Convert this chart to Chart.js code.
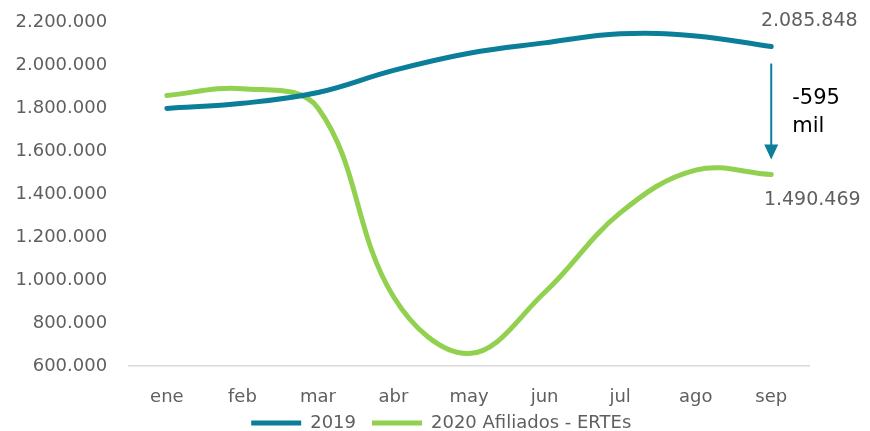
<!DOCTYPE html>
<html><head><meta charset="utf-8">
<script src="https://cdn.jsdelivr.net/npm/chart.js@4/dist/chart.umd.min.js"></script>
<style>html,body{margin:0;padding:0;background:#fff}#wrap{width:870px;height:431px}</style>
</head><body><div id="wrap"><canvas id="c" width="870" height="431"></canvas></div>
<script>
const months = ['ene','feb','mar','abr','may','jun','jul','ago','sep'];
const afiliados2019 = [1798000, 1822000, 1872000, 1975000, 2055000, 2103000, 2145000, 2135000, 2085848];
const afiliados2020 = [1858000, 1890000, 1800000, 922000, 658000, 942000, 1312000, 1511000, 1490469];
const seriesNames = ['2019', '2020 Afiliados - ERTEs'];
const diffLabel = ['-595', 'mil'];
const yMin = 600000, yMax = 2200000, yStep = 200000;

function fmt(v){ return Math.round(v).toString().replace(/\B(?=(\d{3})+(?!\d))/g, '.'); }

const FONT = "'DejaVu Sans', sans-serif";
const GREY = '#5f5f5f';
const BLUE = '#0b7f99';
const GREEN = '#92d050';

const annot = {
  id: 'annot',
  afterLayout(chart){
    const lg = chart.legend;
    if (lg) { lg.top -= 11; lg.bottom -= 11; lg.left += 40; lg.right += 40; }
  },
  afterDatasetsDraw(chart){
    const ctx = chart.ctx;
    const xs = chart.scales.x, ys = chart.scales.y;
    const last = months.length - 1;
    const x = xs.getPixelForValue(last);
    const y1 = ys.getPixelForValue(afiliados2019[last]);
    const y2 = ys.getPixelForValue(afiliados2020[last]);
    ctx.save();
    ctx.fillStyle = GREY;
    ctx.font = "19px " + FONT;
    ctx.textAlign = 'center';
    ctx.textBaseline = 'middle';
    ctx.fillText(fmt(afiliados2019[last]), x + 38, y1 - 25);
    ctx.fillText(fmt(afiliados2020[last]), x + 41, y2 + 26);
    const top = y1 + 17, bot = y2 - 15;
    ctx.strokeStyle = BLUE; ctx.fillStyle = BLUE; ctx.lineWidth = 2;
    ctx.beginPath(); ctx.moveTo(x, top); ctx.lineTo(x, bot - 12); ctx.stroke();
    ctx.beginPath(); ctx.moveTo(x - 7, bot - 15); ctx.lineTo(x + 7, bot - 15); ctx.lineTo(x, bot); ctx.closePath(); ctx.fill();
    ctx.fillStyle = '#000';
    ctx.font = "500 21px " + FONT;
    ctx.textAlign = 'left';
    ctx.fillText(diffLabel[0], x + 21, (y1 + y2) / 2 - 12);
    ctx.fillText(diffLabel[1], x + 21, (y1 + y2) / 2 + 16);
    ctx.restore();
  }
};

new Chart(document.getElementById('c'), {
  type: 'line',
  data: {
    labels: months,
    datasets: [
      { label: seriesNames[0], data: afiliados2019, borderColor: BLUE, backgroundColor: BLUE, borderWidth: 5, borderCapStyle: 'round', pointRadius: 0, tension: 0.4, fill: false },
      { label: seriesNames[1], data: afiliados2020, borderColor: GREEN, backgroundColor: GREEN, borderWidth: 5, borderCapStyle: 'round', pointRadius: 0, tension: 0.38, fill: false }
    ]
  },
  options: {
    responsive: false, animation: false, devicePixelRatio: 1,
    layout: { padding: { top: 22, right: 61, left: -6.5, bottom: -22 } },
    plugins: {
      tooltip: { enabled: false },
      legend: {
        position: 'bottom',
        labels: { usePointStyle: true, pointStyle: 'line', pointStyleWidth: 50, color: GREY, font: { family: FONT, size: 18 }, padding: 16, boxHeight: 10 }
      }
    },
    scales: {
      x: {
        offset: true,
        grid: { display: false, drawTicks: false },
        border: { display: true, color: '#d9d9d9', width: 1.5 },
        ticks: { color: GREY, font: { family: FONT, size: 18 }, padding: 21 },
        afterFit(s){ s.height = 43; }
      },
      y: {
        min: yMin, max: yMax,
        grid: { display: false, drawTicks: false },
        border: { display: false },
        ticks: { stepSize: yStep, color: GREY, font: { family: FONT, size: 18 }, padding: 22, callback: v => fmt(v) },
        afterFit(s){ s.paddingTop = 0; s.paddingBottom = 0; }
      }
    }
  },
  plugins: [annot]
});
</script>
</body></html>
